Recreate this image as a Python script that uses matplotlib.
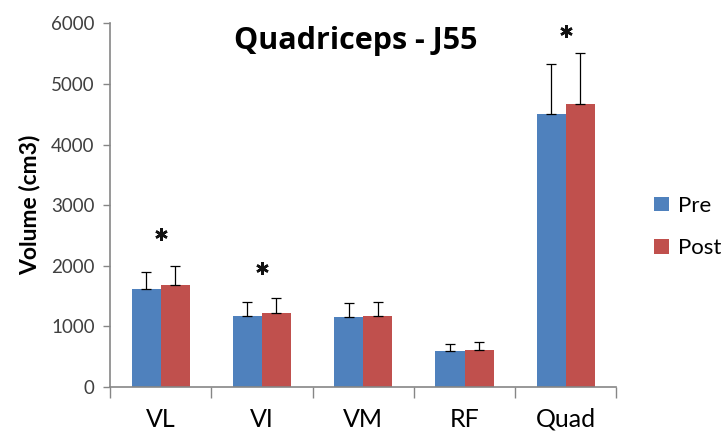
import matplotlib.pyplot as plt
import numpy as np

# data
muscles = ['VL', 'VI', 'VM', 'RF', 'Quad']
pre = [1610, 1163, 1147, 595, 4502]
post = [1676, 1213, 1174, 612, 4668]
pre_err = [285, 232, 228, 111, 820]
post_err = [314, 248, 231, 132, 848]
star_idx = [0, 1, 4]
star_y = [2530, 1965, 5875]

plt.rcParams['font.family'] = ['Lato', 'DejaVu Sans']

fig = plt.figure(figsize=(7.21, 4.34), dpi=100)
ax = fig.add_axes([0.1526, 0.109, 0.7024, 0.837])

x = np.arange(len(muscles))
w = 0.287
blue = '#4F81BD'
red = '#C0504D'
axis_grey = '#868686'
text_grey = '#404040'

ax.bar(x - w / 2, pre, w, color=blue, label='Pre', zorder=2,
       yerr=[np.zeros(len(pre)), pre_err],
       error_kw=dict(ecolor='black', elinewidth=0.9, capsize=3.8, capthick=0.9))
ax.bar(x + w / 2, post, w, color=red, label='Post', zorder=2,
       yerr=[np.zeros(len(post)), post_err],
       error_kw=dict(ecolor='black', elinewidth=0.9, capsize=3.8, capthick=0.9))

# significance stars (6-arm asterisk marker)
ax.plot(x[star_idx], star_y, linestyle='none', marker=(6, 2, 0), markersize=9,
        markeredgewidth=1.8, color='#111111', zorder=3)

ax.set_xlim(-0.5, len(muscles) - 0.5)
ax.set_ylim(0, 6000)
ax.set_yticks(np.arange(0, 6001, 1000))

# ticks at category boundaries, labels at centres
ax.set_xticks(np.arange(-0.5, len(muscles), 1.0))
ax.set_xticklabels([])
ax.set_xticks(x, minor=True)
ax.set_xticklabels(muscles, minor=True, fontsize=18, color='black')
ax.tick_params(axis='x', which='major', length=8, width=1, color=axis_grey, direction='out')
ax.tick_params(axis='x', which='minor', length=0, pad=15)
ax.tick_params(axis='y', length=5, width=1, color=axis_grey, direction='out',
               labelsize=13.5, labelcolor=text_grey, pad=6)

for side in ['top', 'right']:
    ax.spines[side].set_visible(False)
for side in ['left', 'bottom']:
    ax.spines[side].set_color(axis_grey)
    ax.spines[side].set_linewidth(1.2)

ax.set_ylabel('Volume (cm3)', fontsize=16.5, fontweight='bold', labelpad=8)
ax.text(0.485, 0.952, 'Quadriceps - J55', transform=ax.transAxes, ha='center', va='center',
        fontsize=22, fontweight='bold', family=['Open Sans', 'DejaVu Sans'])

ax.legend(loc='center left', bbox_to_anchor=(1.035, 0.44), frameon=False, fontsize=16,
          handlelength=0.65, handleheight=0.65, handletextpad=0.4, labelspacing=1.0)

fig.savefig('out.png', dpi=100)
